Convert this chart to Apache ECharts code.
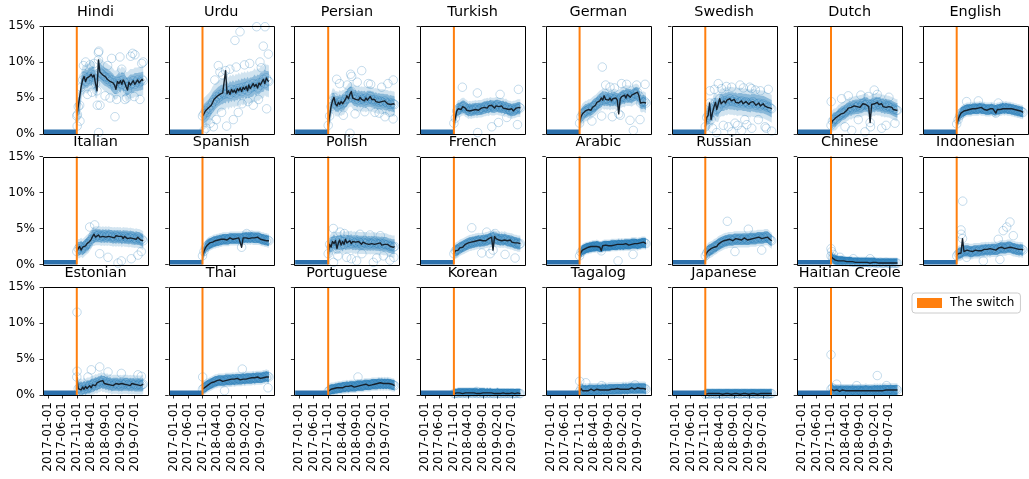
<!DOCTYPE html>
<html><head><meta charset="utf-8">
<script src="https://cdn.jsdelivr.net/npm/echarts@6/dist/echarts.min.js"></script>
<style>html,body{margin:0;padding:0;background:#fff}#c{width:1029px;height:479px}</style>
</head><body><div id="c"></div>
<script>
// ---------------- DATA ----------------
const languages = ['Hindi','Urdu','Persian','Turkish','German','Swedish','Dutch','English',
  'Italian','Spanish','Polish','French','Arabic','Russian','Chinese','Indonesian',
  'Estonian','Thai','Portuguese','Korean','Tagalog','Japanese','Haitian Creole'];
const tickLabels = ['2017-01-01','2017-06-01','2017-11-01','2018-04-01','2018-09-01','2019-02-01','2019-07-01'];
const yTickValues = [0, 5, 10, 15];
const switchDate = '2017-11-01';
const dataStart = '2017-01-01';
const dataEnd = '2019-09-28';
const preSwitchDates = ['2017-01-01', '2017-10-31'];
const preSwitchValues = [0, 0];
const sampleDates = ['2017-11-01','2017-11-16','2017-12-01','2017-12-16','2018-01-01','2018-01-16','2018-02-01','2018-02-16','2018-03-01','2018-03-16','2018-04-01','2018-04-16','2018-05-01','2018-05-16','2018-06-01','2018-06-16','2018-07-01','2018-07-16','2018-08-01','2018-08-16','2018-09-01','2018-09-16','2018-10-01','2018-10-16','2018-11-01','2018-11-16','2018-12-01','2018-12-16','2019-01-01','2019-01-16','2019-02-01','2019-02-16','2019-03-01','2019-03-16','2019-04-01','2019-04-16','2019-05-01','2019-05-16','2019-06-01','2019-06-16','2019-07-01','2019-07-16','2019-08-01','2019-08-16','2019-09-01','2019-09-16','2019-09-28'];

// rolling mean (%) at sampleDates
const mean_Hindi = [2.5,3.8,4.0,6.5,7.5,8.0,7.3,7.8,7.6,8.0,8.3,7.9,8.2,7.0,6.0,10.3,8.6,8.4,8.2,8.0,7.9,7.6,7.8,7.3,7.5,7.1,6.8,6.2,7.3,7.0,7.4,6.9,7.5,7.2,6.6,6.1,7.2,6.8,7.0,7.4,6.9,7.2,7.5,7.1,7.3,7.6,7.4];
const mean_Urdu = [2.5,2.8,3.2,3.0,3.6,3.4,4.0,4.4,4.8,4.6,5.2,5.0,5.5,5.3,5.7,5.5,8.8,5.6,6.0,5.5,6.2,5.8,6.1,5.7,6.3,6.0,6.4,5.9,6.5,6.2,6.6,6.0,6.8,6.3,6.5,7.0,6.6,6.9,6.4,7.1,6.8,7.2,7.6,7.0,7.8,7.4,7.3];
const mean_Persian = [1.2,2.5,3.8,4.6,5.1,4.2,3.9,4.4,4.1,4.5,4.2,4.4,4.8,5.3,4.9,5.5,5.9,5.0,5.2,4.8,5.0,4.7,5.1,4.8,4.9,4.6,5.0,4.7,4.9,5.2,4.8,4.6,4.8,4.5,4.7,4.4,4.6,4.5,4.3,4.6,4.4,4.2,4.4,4.1,4.3,4.2,4.1];
const mean_Turkish = [1.5,2.2,3.2,3.5,3.7,3.4,3.8,3.9,3.6,3.3,3.5,3.2,3.4,3.3,3.5,3.4,3.6,3.3,3.5,3.6,3.4,3.7,3.8,3.6,3.9,3.7,4.0,3.8,3.6,3.9,4.1,3.8,3.7,3.9,3.6,3.8,3.5,3.7,3.4,3.3,3.5,3.2,3.4,3.6,3.5,3.7,3.6];
const mean_German = [1.5,2.4,2.8,3.0,3.2,3.2,3.4,3.5,3.3,3.7,3.9,4.0,4.4,4.2,4.6,5.0,4.7,5.3,4.8,4.9,4.7,5.0,4.6,4.9,4.8,5.0,4.7,2.8,4.9,5.2,5.1,5.4,5.0,5.5,5.3,5.1,5.4,5.2,5.6,5.5,5.8,5.3,4.3,4.5,4.4,4.5,4.3];
const mean_Swedish = [1.0,2.3,2.6,4.3,2.0,3.0,3.8,4.4,3.4,3.6,4.9,4.2,4.4,4.6,4.3,4.7,4.5,4.9,4.6,4.5,4.8,4.4,4.6,4.3,4.5,4.6,4.2,4.4,4.5,4.3,4.1,4.4,4.2,4.5,4.3,4.0,4.2,4.3,3.9,4.1,4.2,3.9,4.0,3.7,3.8,3.6,3.5];
const mean_Dutch = [1.2,1.8,2.0,2.2,2.0,2.5,2.6,2.8,3.0,2.9,3.1,3.3,3.6,3.4,3.7,3.5,3.9,3.7,3.8,4.0,3.7,3.9,4.2,4.0,4.1,4.3,3.8,1.6,4.1,3.9,4.2,4.0,4.4,4.1,3.9,4.2,3.8,4.0,3.7,3.9,3.8,3.6,3.7,3.4,3.5,3.3,3.3];
const mean_English = [1.4,2.0,2.5,2.9,3.1,3.2,3.4,3.3,3.5,3.4,3.4,3.5,3.6,3.5,3.4,3.6,3.5,3.7,3.5,3.4,3.5,3.3,3.4,3.5,3.4,3.5,3.3,2.9,3.4,3.5,3.4,3.6,3.5,3.7,3.5,3.6,3.5,3.4,3.5,3.3,3.4,3.2,3.3,3.1,3.2,3.1,3.0];
const mean_Italian = [1.8,2.2,2.5,2.0,2.4,2.2,2.6,2.9,2.8,3.2,3.5,3.9,4.2,3.8,4.0,4.1,3.8,4.0,3.9,4.1,3.8,4.0,3.9,4.1,3.8,3.9,3.7,4.0,3.8,3.9,3.7,3.9,3.6,3.9,3.8,3.6,3.8,3.7,3.9,3.6,3.7,3.5,3.8,3.6,3.4,3.5,3.3];
const mean_Spanish = [1.2,1.8,2.3,2.6,2.8,3.0,2.9,3.1,3.2,3.3,3.2,3.4,3.3,3.5,3.4,3.5,3.6,3.4,3.5,3.7,3.6,3.5,3.7,3.6,3.5,3.7,3.6,2.4,3.7,3.8,3.7,3.8,3.6,3.8,3.7,3.9,3.7,3.6,3.8,3.7,3.5,3.6,3.4,3.5,3.3,3.4,3.3];
const mean_Polish = [1.5,2.8,2.4,3.2,2.9,3.3,2.2,3.0,3.4,2.7,3.2,2.8,3.5,3.0,3.1,3.3,2.9,3.2,3.0,3.1,2.9,3.2,3.0,2.8,3.1,3.0,2.9,3.1,2.8,3.0,2.9,3.1,2.8,3.0,2.9,2.8,3.0,2.7,2.9,2.8,2.7,2.8,2.6,2.5,2.6,2.4,2.5];
const mean_French = [1.5,1.9,2.1,2.0,2.3,2.5,2.4,2.6,2.8,2.7,3.0,2.9,3.1,3.0,3.2,3.1,3.3,3.2,3.4,3.2,3.3,3.5,3.3,3.4,3.6,3.5,3.8,2.0,3.9,3.6,3.5,3.4,3.6,3.3,3.5,3.4,3.5,3.3,3.2,3.4,3.1,3.2,3.0,2.9,3.0,2.8,2.9];
const mean_Arabic = [1.2,1.7,2.0,2.1,2.2,2.3,2.4,2.3,2.5,2.4,2.5,2.6,2.5,2.6,2.4,1.9,2.6,2.5,2.7,2.6,2.6,2.7,2.6,2.8,2.7,2.6,2.8,2.7,2.8,2.7,2.8,2.7,2.9,2.8,2.7,2.9,2.8,3.0,2.9,2.8,2.9,2.8,3.0,2.9,3.1,3.0,2.9];
const mean_Russian = [1.2,1.6,1.9,2.0,2.2,2.1,2.4,2.6,2.5,2.8,2.9,3.1,3.0,3.3,3.2,3.4,3.3,3.5,3.4,3.3,3.5,3.6,3.4,3.5,3.6,3.4,3.5,3.7,3.5,3.4,3.6,3.5,3.7,3.6,3.5,3.7,3.6,3.8,3.7,3.6,3.8,3.7,3.9,3.8,3.6,3.4,3.3];
const mean_Chinese = [1.2,0.9,0.7,0.6,0.6,0.5,0.5,0.5,0.4,0.5,0.4,0.4,0.4,0.4,0.3,0.4,0.3,0.3,0.4,0.3,0.3,0.3,0.3,0.3,0.3,0.3,0.3,0.2,0.3,0.3,0.2,0.3,0.2,0.2,0.3,0.2,0.2,0.2,0.3,0.2,0.2,0.2,0.2,0.2,0.2,0.2,0.2];
const mean_Indonesian = [1.2,1.5,1.6,1.6,3.6,1.8,1.9,2.0,1.8,1.9,1.7,1.8,1.9,2.0,1.8,1.9,2.1,1.9,2.0,2.1,2.0,2.1,2.0,2.2,2.0,2.1,2.2,2.0,2.1,2.3,2.2,2.4,2.3,2.2,2.4,2.3,2.5,2.4,2.2,2.3,2.1,2.2,2.0,2.1,2.0,2.1,2.0];
const mean_Estonian = [2.5,0.9,1.0,0.7,1.1,0.8,1.2,0.9,1.1,1.3,1.0,1.4,1.6,1.3,1.7,1.5,1.9,1.7,2.0,1.6,1.8,1.5,1.7,1.4,1.6,1.3,1.5,1.6,1.4,1.5,1.3,1.6,1.4,1.5,1.7,1.4,1.5,1.3,1.6,1.4,1.5,1.3,1.4,1.5,1.3,1.4,1.5];
const mean_Thai = [0.8,1.0,1.1,1.3,1.4,1.5,1.7,1.6,1.8,1.9,2.0,1.9,2.1,2.0,1.9,2.1,2.0,2.2,2.1,2.0,2.2,2.1,2.2,2.0,2.3,2.2,2.1,2.3,2.2,2.3,2.2,2.4,2.3,2.2,2.4,2.3,2.4,2.3,2.5,2.4,2.3,2.5,2.4,2.6,2.5,2.6,2.5];
const mean_Portuguese = [0.5,0.7,0.8,0.8,0.9,0.8,1.0,0.9,1.0,1.1,1.0,1.1,1.2,1.0,1.2,1.1,1.3,1.2,1.1,1.3,1.2,1.4,1.3,1.2,1.4,1.3,1.5,1.4,1.3,1.5,1.4,1.6,1.5,1.4,1.6,1.5,1.7,1.5,1.6,1.5,1.6,1.5,1.6,1.4,1.5,1.4,1.3];
const mean_Korean = [0.2,0.2,0.3,0.2,0.3,0.3,0.2,0.3,0.3,0.2,0.3,0.3,0.3,0.2,0.3,0.3,0.2,0.3,0.2,0.3,0.3,0.2,0.3,0.2,0.3,0.2,0.3,0.2,0.2,0.3,0.2,0.3,0.2,0.2,0.3,0.2,0.2,0.3,0.2,0.2,0.3,0.2,0.2,0.2,0.3,0.2,0.2];
const mean_Tagalog = [0.5,0.9,0.6,0.7,0.6,0.7,0.6,0.7,0.8,0.7,0.6,0.7,0.8,0.7,0.7,0.8,0.7,0.8,0.7,0.8,0.7,0.8,0.8,0.7,0.8,0.8,0.9,0.8,0.8,0.9,0.8,0.9,0.8,0.9,0.8,0.9,1.0,0.9,0.8,0.9,1.0,0.9,0.9,1.0,0.9,0.9,0.8];
const mean_Japanese = [0.1,0.2,0.2,0.1,0.2,0.2,0.2,0.1,0.2,0.2,0.2,0.2,0.1,0.2,0.2,0.2,0.2,0.2,0.1,0.2,0.2,0.2,0.2,0.2,0.1,0.2,0.2,0.2,0.2,0.2,0.1,0.2,0.2,0.2,0.2,0.2,0.1,0.2,0.2,0.2,0.2,0.2,0.2,0.1,0.2,0.2,0.2];
const mean_HaitianCreole = [0.8,1.0,0.6,0.5,0.7,0.6,0.5,0.6,0.7,0.5,0.6,0.7,0.6,0.5,0.6,0.7,0.6,0.5,0.6,0.7,0.6,0.5,0.6,0.7,0.6,0.7,0.6,0.5,0.6,0.7,0.6,0.7,0.6,0.7,0.6,0.7,0.6,0.8,0.7,0.6,0.7,0.8,0.7,0.6,0.7,0.8,0.7];

// scattered daily values: [date, %]
const pts_Hindi = [['2018-06-15',11.3],['2018-06-20',11.5],['2018-06-04',4.0],['2018-07-02',4.0],['2018-06-18',0.2],['2018-12-06',2.4],['2019-05-19',10.8],['2019-06-09',11.2],['2019-09-28',10.0],['2019-09-12',9.8],['2018-02-02',10.0],['2018-12-24',4.8],['2019-04-08',5.0],['2019-08-25',4.8],['2018-08-24',5.3],['2017-12-04',1.8],['2017-11-07',2.7],['2017-11-05',1.1],['2018-11-01',10.5],['2019-01-27',10.7],['2019-07-03',11.0],['2018-01-10',9.5],['2018-03-20',9.6],['2018-05-01',9.8],['2018-09-20',9.5],['2018-10-15',5.0],['2019-02-15',9.0],['2019-03-20',4.8],['2019-06-25',5.2],['2018-04-10',5.8],['2018-02-20',5.5]];
const pts_Urdu = [['2019-05-22',14.9],['2019-08-18',14.9],['2018-11-29',14.2],['2018-10-07',13.0],['2019-07-31',12.2],['2019-09-22',11.1],['2019-06-26',10.0],['2018-04-16',9.5],['2018-05-03',8.6],['2018-07-12',1.1],['2018-02-23',1.0],['2017-11-17',0.5],['2018-09-20',2.0],['2018-11-11',3.0],['2019-04-17',4.0],['2019-09-04',3.5],['2018-03-10',7.5],['2018-06-01',8.2],['2018-08-15',9.0],['2018-10-20',9.3],['2019-01-15',9.6],['2019-03-10',9.8],['2019-07-10',9.2],['2018-03-25',2.0],['2018-05-20',3.0],['2018-12-20',4.2],['2019-02-20',4.5],['2019-06-10',4.8],['2017-12-10',0.8],['2018-01-20',1.5]];
const pts_Persian = [['2018-06-24',8.3],['2018-07-05',8.0],['2018-01-29',7.6],['2018-10-18',8.8],['2018-12-26',7.0],['2019-09-14',7.5],['2018-06-17',0.1],['2019-06-19',2.4],['2019-09-12',2.1],['2019-03-06',3.0],['2018-04-09',2.6],['2019-05-15',6.5],['2018-03-01',7.0],['2018-05-20',6.8],['2018-09-01',7.2],['2019-01-20',6.9],['2019-07-20',7.0],['2018-08-10',2.8],['2018-11-20',3.1],['2019-04-20',2.9],['2019-08-10',3.0]];
const pts_Turkish = [['2018-01-29',6.5],['2018-07-05',5.7],['2019-09-08',6.2],['2018-12-03',1.0],['2019-02-11',1.6],['2019-08-29',1.3],['2018-07-08',0.2],['2019-02-28',5.5],['2019-05-09',2.3]];
const pts_German = [['2018-06-27',9.3],['2019-03-09',6.9],['2019-09-18',6.9],['2018-09-16',6.5],['2019-05-18',0.5],['2019-07-27',2.0],['2019-04-13',1.9],['2018-06-20',2.5],['2019-06-22',6.8],['2018-08-01',6.8],['2018-11-01',6.4],['2019-01-15',7.0],['2018-03-10',1.8],['2018-10-10',2.4],['2019-01-01',2.6]];
const pts_Swedish = [['2018-03-17',7.0],['2018-10-31',6.8],['2018-08-04',6.5],['2019-03-01',6.3],['2019-08-23',6.2],['2018-02-28',0.2],['2018-08-06',0.3],['2018-11-17',0.5],['2019-03-03',0.8],['2019-07-20',1.0],['2019-09-27',0.4],['2018-09-08',1.5],['2019-05-11',2.0],['2018-05-09',1.2],['2017-12-20',6.0],['2018-01-15',0.8],['2018-04-20',6.3],['2019-01-10',1.3],['2019-06-01',6.0],['2018-02-05',6.2],['2018-06-10',6.6],['2018-12-05',6.4],['2019-04-10',6.1],['2019-08-01',0.8],['2018-07-01',1.0],['2018-12-20',2.0],['2019-02-10',6.5],['2018-10-05',1.2]];
const pts_Dutch = [['2019-01-28',6.1],['2018-11-26',5.2],['2018-02-20',4.9],['2017-11-03',4.5],['2018-03-28',1.0],['2018-06-06',0.5],['2018-10-23',0.3],['2019-04-16',0.8],['2019-09-02',1.5],['2018-08-14',2.0],['2018-05-01',5.3],['2018-09-10',5.4],['2019-03-01',5.5],['2019-07-01',5.1],['2018-12-20',1.0],['2019-06-01',1.2]];
const pts_English = [['2018-02-13',4.5],['2018-06-16',4.6],['2019-01-11',4.3]];
const pts_Italian = [['2018-05-07',5.5],['2018-03-16',5.2],['2019-01-07',0.2],['2019-02-11',0.5],['2018-09-24',1.0],['2018-06-29',1.5],['2019-08-04',1.3],['2019-05-26',0.8],['2019-09-08',1.8]];
const pts_Spanish = [['2019-02-07',4.3]];
const pts_Polish = [['2017-12-25',5.0],['2018-03-05',4.5],['2018-09-30',4.2],['2019-01-13',4.1],['2019-02-17',0.3],['2018-08-26',0.5],['2019-08-10',0.6],['2018-05-14',1.0],['2019-06-02',1.2],['2017-12-27',0.3],['2018-02-10',1.2],['2018-07-01',0.8],['2018-10-20',1.5],['2019-03-25',0.9],['2019-09-20',1.0],['2018-04-20',4.3],['2019-05-01',4.0]];
const pts_French = [['2018-05-07',5.1],['2018-10-11',4.5],['2019-01-07',4.3],['2018-08-20',1.6],['2018-11-15',1.5],['2019-04-21',1.4],['2019-08-04',0.9]];
const pts_Arabic = [['2018-12-09',0.5],['2019-05-15',1.4]];
const pts_Russian = [['2018-06-20',6.0],['2019-01-26',4.9],['2018-09-08',1.8],['2019-06-15',2.0]];
const pts_Chinese = [['2017-11-01',2.2],['2017-11-08',1.8],['2017-11-25',1.4],['2018-02-03',1.0],['2018-06-23',0.8],['2018-12-15',0.8]];
const pts_Indonesian = [['2018-01-03',8.8],['2017-12-16',4.8],['2017-12-18',4.2],['2019-05-13',5.9],['2019-04-09',5.2],['2019-03-03',4.7],['2019-06-17',4.0],['2019-01-11',3.5],['2018-08-07',0.5],['2019-01-28',0.7],['2018-02-13',1.0]];
const pts_Estonian = [['2017-11-03',11.5],['2017-11-04',3.3],['2018-06-29',3.9],['2018-04-02',3.5],['2018-09-24',3.2],['2019-02-11',3.0],['2019-08-04',2.8],['2019-09-08',2.6],['2018-02-26',2.5]];
const pts_Thai = [['2017-11-03',2.5],['2018-12-23',3.6],['2019-09-18',1.0],['2018-06-20',0.6]];
const pts_Portuguese = [['2018-09-09',2.5]];
const pts_Korean = [['2018-06-29',0.5]];
const pts_Tagalog = [['2017-11-02',1.9],['2018-01-05',1.7],['2018-06-20',1.3],['2019-06-05',1.4]];
const pts_Japanese = [];
const pts_HaitianCreole = [['2017-11-01',5.6],['2019-03-01',2.7],['2017-12-30',1.5],['2018-07-28',1.3],['2019-06-06',1.3]];

// ---------------- STYLE ----------------
// half-width (in % units) of the dense cloud around the mean, per panel
const cloudSpread = [1.4,1.6,1.1,0.6,0.8,1.3,0.9,0.35, 0.7,0.35,0.9,0.5,0.25,0.5,0.15,0.45, 0.7,0.35,0.3,0.15,0.35,0.1,0.3];

const MEANS = {Hindi:mean_Hindi,Urdu:mean_Urdu,Persian:mean_Persian,Turkish:mean_Turkish,German:mean_German,Swedish:mean_Swedish,Dutch:mean_Dutch,English:mean_English,Italian:mean_Italian,Spanish:mean_Spanish,Polish:mean_Polish,French:mean_French,Arabic:mean_Arabic,Russian:mean_Russian,Chinese:mean_Chinese,Indonesian:mean_Indonesian,Estonian:mean_Estonian,Thai:mean_Thai,Portuguese:mean_Portuguese,Korean:mean_Korean,Tagalog:mean_Tagalog,Japanese:mean_Japanese,'Haitian Creole':mean_HaitianCreole};
const PTS = {Hindi:pts_Hindi,Urdu:pts_Urdu,Persian:pts_Persian,Turkish:pts_Turkish,German:pts_German,Swedish:pts_Swedish,Dutch:pts_Dutch,English:pts_English,Italian:pts_Italian,Spanish:pts_Spanish,Polish:pts_Polish,French:pts_French,Arabic:pts_Arabic,Russian:pts_Russian,Chinese:pts_Chinese,Indonesian:pts_Indonesian,Estonian:pts_Estonian,Thai:pts_Thai,Portuguese:pts_Portuguese,Korean:pts_Korean,Tagalog:pts_Tagalog,Japanese:pts_Japanese,'Haitian Creole':pts_HaitianCreole};

const ts = s => Date.parse(s + 'T00:00:00Z');
const t0 = ts(dataStart), t1 = ts(dataEnd), pad = (t1 - t0) * 0.05;
const tickVals = tickLabels.map(ts);
const FONT = 'DejaVu Sans';
const BLUE = '31,119,180';

const L0 = 43, DX = 125.7, T0 = 26, DY = 130.5, W = 105, H = 108;
const grids = [], xAxes = [], yAxes = [], series = [], graphics = [];

// centre of the cloud: median of neighbouring mean readings (rolling-mean spikes are not in the cloud)
function cloudCentre(vals) {
  return vals.map((v, k) => {
    const a = vals[Math.max(0, k - 1)], b = v, c = vals[Math.min(vals.length - 1, k + 1)];
    return [a, b, c].sort((p, q) => p - q)[1];
  });
}
// vertical band polygon around a pixel polyline
function bandPolygon(pts, hw) {
  const up = pts.map(p => [p[0], p[1] - hw]);
  const down = pts.map(p => [p[0], p[1] + hw]).reverse();
  return up.concat(down);
}

languages.forEach((name, i) => {
  const r = Math.floor(i / 8), c = i % 8;
  const left = L0 + c * DX, top = T0 + r * DY;
  const bottomRow = (r === 2);
  grids.push({left: left, top: top, width: W, height: H, show: false});
  xAxes.push({
    gridIndex: i, type: 'value', min: t0 - pad, max: t1 + pad,
    splitLine: {show: false}, axisLine: {show: false},
    axisTick: {show: bottomRow, customValues: tickVals, length: 3.5, lineStyle: {color: '#000', width: 0.8}},
    axisLabel: {show: bottomRow, customValues: tickVals, rotate: 90, margin: 7, fontSize: 12, color: '#000', fontFamily: FONT,
      formatter: v => { const k = tickVals.indexOf(v); return k >= 0 ? tickLabels[k] : ''; }}
  });
  yAxes.push({
    gridIndex: i, type: 'value', min: 0, max: 15, interval: 5,
    splitLine: {show: false}, axisLine: {show: false},
    axisTick: {show: true, length: 3.5, lineStyle: {color: '#000', width: 0.8}},
    axisLabel: {show: c === 0, margin: 8, fontSize: 12, color: '#000', fontFamily: FONT, formatter: '{value}%'}
  });
  graphics.push({type: 'text', x: left + W / 2, y: top - 21, silent: true,
    style: {text: name, textAlign: 'center', textVerticalAlign: 'top', font: '14.4px "' + FONT + '"', fill: '#000'}});
  graphics.push({type: 'rect', silent: true, z: 100,
    shape: {x: Math.round(left) + 0.5, y: Math.round(top) + 0.5, width: W, height: H},
    style: {fill: null, stroke: '#000', lineWidth: 1}});

  const vals = MEANS[name];
  const meanData = sampleDates.map((d, k) => [ts(d), vals[k]]);
  const centreVals = cloudCentre(vals);
  const centreData = sampleDates.map((d, k) => [ts(d), centreVals[k]]);
  const pre = preSwitchDates.map((d, k) => [ts(d), preSwitchValues[k]]);
  const spreadPx = cloudSpread[i] * H / 15;
  const innerAlpha = Math.min(0.8, 0.3 + 0.12 / cloudSpread[i]);
  const outerAlpha = 0.2;

  // dense cloud + pre-switch zeros, clipped to the plot area
  series.push({
    type: 'custom', xAxisIndex: i, yAxisIndex: i, silent: true, animation: false, z: 2, clip: true,
    data: [0],
    renderItem: (params, api) => {
      const pts = centreData.map(p => api.coord(p));
      const a = api.coord(pre[0]), b = api.coord(pre[1]);
      return {type: 'group', children: [
        {type: 'rect', shape: {x: a[0] - 4, y: a[1] - 4.5, width: b[0] - a[0] + 4, height: 9},
          style: {fill: 'rgb(44,112,172)'}},
        {type: 'polygon', shape: {points: bandPolygon(pts, spreadPx + 4.5)},
          style: {fill: 'rgba(' + BLUE + ',' + outerAlpha + ')'}},
        {type: 'polygon', shape: {points: bandPolygon(pts, spreadPx / 2 + 4)},
          style: {fill: 'rgba(' + BLUE + ',' + innerAlpha + ')'}}
      ]};
    }
  });
  // hollow markers of the daily values
  series.push({xAxisIndex: i, yAxisIndex: i, type: 'scatter', animation: false, silent: true, z: 3,
    symbol: 'circle', symbolSize: 8.5,
    itemStyle: {color: 'rgba(0,0,0,0)', borderColor: 'rgba(' + BLUE + ',0.32)', borderWidth: 1},
    data: PTS[name].map(p => [ts(p[0]), p[1]]).concat(meanData)});
  // rolling mean
  series.push({xAxisIndex: i, yAxisIndex: i, type: 'line', symbol: 'none', animation: false, silent: true, clip: true, z: 4,
    data: meanData, lineStyle: {color: '#16212c', width: 1.4, join: 'round'}});
  // the switch
  series.push({xAxisIndex: i, yAxisIndex: i, type: 'line', symbol: 'none', animation: false, silent: true, z: 5,
    name: 'The switch', itemStyle: {color: '#ff7f0e'}, color: '#ff7f0e',
    data: [[ts(switchDate), 0], [ts(switchDate), 15]],
    lineStyle: {color: '#ff7f0e', width: 2}});
});

const chart = echarts.init(document.getElementById('c'), null, {renderer: 'canvas'});
chart.setOption({
  animation: false,
  backgroundColor: '#fff',
  grid: grids, xAxis: xAxes, yAxis: yAxes, series: series,
  graphic: graphics,
  legend: {
    data: [{name: 'The switch', icon: 'rect', itemStyle: {color: '#ff7f0e'}}],
    left: 912, top: 293, itemWidth: 25, itemHeight: 10, selectedMode: false,
    borderColor: '#cccccc', borderWidth: 1, borderRadius: 3, padding: [4, 6, 4, 5],
    backgroundColor: 'rgba(255,255,255,0.8)',
    textStyle: {fontSize: 12, fontFamily: FONT, color: '#000', padding: [0, 0, 0, 3]}
  }
});
</script></body></html>
